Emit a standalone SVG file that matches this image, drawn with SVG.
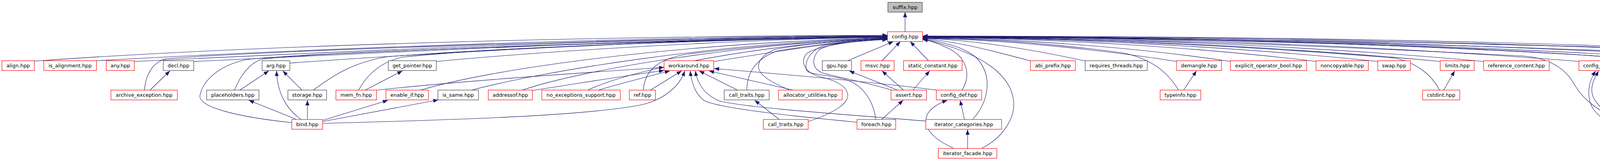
<svg xmlns="http://www.w3.org/2000/svg" width="4939" height="411" viewBox="0 0 4939 411">
<style>
rect{fill:#fff;stroke:#ff0000;stroke-width:1.2}
.b rect{stroke:#404040}
.g rect{fill:#bfbfbf;stroke:#404040}
text{font-family:"DejaVu Sans","Liberation Sans",sans-serif;font-size:12.9px;text-anchor:middle;fill:#000}
#edges path{fill:none;stroke:#191970;stroke-width:1.1;marker-end:url(#a)}
</style>
<defs>
<marker id="a" markerUnits="userSpaceOnUse" markerWidth="14" markerHeight="11" refX="13" refY="5" orient="auto"><path d="M0,0 L13,5 L0,10 z" fill="#191970" stroke="none"/></marker>
</defs>
<rect x="0" y="0" width="4939" height="411" style="fill:#fff;stroke:none"/>
<g id="edges">
<path d="M2317,81 L2317,31"/>
<path d="M88,156 C700,112 1600,92 2272,90"/>
<path d="M247,155 C800,124 1650,93 2272,91"/>
<path d="M344,157 C900,130 1700,94 2272,92"/>
<path d="M496,157 C1000,134 1750,95 2272,92"/>
<path d="M370,230 C372,195 388,160 425,150 C700,128 1700,96 2272,93"/>
<path d="M742,161 C1100,135 1800,97 2272,93"/>
<path d="M600,230 C615,195 635,165 665,153 C720,135 1800,98 2272,94"/>
<path d="M802,230 C850,195 900,160 990,145 C1300,120 1900,99 2272,94"/>
<path d="M747,313 C620,300 505,275 512,243 C520,205 560,168 627,153 C700,138 1600,104 2272,95"/>
<path d="M1117,157 C1400,130 1900,100 2272,95"/>
<path d="M918,230 C940,190 975,158 1030,146 C1300,118 1900,100 2272,95"/>
<path d="M1077,230 C1250,178 1700,112 2272,96"/>
<path d="M1207,230 C1380,185 1800,112 2272,96"/>
<path d="M1337,230 C1500,175 1900,112 2272,97"/>
<path d="M1505,230 C1620,175 1950,113 2272,97"/>
<path d="M1647,230 C1650,180 1685,150 1760,138 C1950,115 2150,102 2272,98"/>
<path d="M1827,157 C2000,130 2150,105 2272,98"/>
<path d="M1912,230 C1912,185 1935,150 1990,130 C2100,112 2200,102 2272,99"/>
<path d="M2020,229 C1985,215 1945,195 1942,173 C1940,155 1955,137 1985,126 C2080,108 2200,102 2272,99"/>
<path d="M2282,230 C2220,210 2130,195 2103,185 C2080,175 2076,150 2097,127 C2130,107 2220,101 2272,100"/>
<path d="M2242,305 C2237,262 2212,218 2165,203 C2110,188 2068,192 2064,177 C2060,155 2075,128 2110,116 C2170,105 2220,102 2272,101"/>
<path d="M2070,310 C2130,290 2175,265 2170,240 C2165,215 2130,203 2097,195 C2060,185 2050,160 2062,140 C2085,115 2200,104 2272,101"/>
<path d="M2170,155 L2287,106"/>
<path d="M2258,155 L2305,106"/>
<path d="M2377,155 L2330,106"/>
<path d="M2463,230 C2490,185 2470,140 2420,120 C2400,110 2380,104 2362,101"/>
<path d="M2490,305 C2535,255 2540,190 2500,148 C2470,120 2410,106 2362,100"/>
<path d="M2513,379 C2570,350 2598,300 2595,260 C2590,195 2520,135 2362,100"/>
<path d="M2640,156 C2550,132 2450,105 2362,99"/>
<path d="M2780,156 C2650,128 2500,102 2362,98"/>
<path d="M3014,157 C2800,124 2550,100 2362,98"/>
<path d="M3017,230 C2990,185 2950,152 2880,136 C2700,110 2500,98 2362,97"/>
<path d="M3152,157 C2900,120 2600,98 2362,97"/>
<path d="M3371,157 C3050,118 2650,97 2362,96"/>
<path d="M3529,157 C3150,118 2700,96 2362,96"/>
<path d="M3689,157 C3250,116 2750,96 2362,95"/>
<path d="M3685,230 C3665,190 3625,160 3570,148 C3200,118 2750,96 2362,95"/>
<path d="M3800,157 C3350,116 2800,95 2362,94"/>
<path d="M4045,157 C3500,114 2900,94 2362,94"/>
<path d="M4302,157 C3700,114 3000,94 2362,93"/>
<path d="M4576,157 C3900,114 3100,93 2362,93"/>
<path d="M4755,157 C4200,112 3200,93 2362,92"/>
<path d="M4857,157 C4300,110 3300,92 2362,92"/>
<path d="M4188,230 C4200,190 4190,160 4150,148 C3800,118 3000,95 2362,94"/>
<path d="M4299,230 C4260,180 4200,150 4100,138 C3700,115 3000,95 2362,94"/>
<path d="M4145,304 C4090,285 4050,250 4030,215 C4005,170 3960,148 3900,143 C3300,112 2800,96 2362,95"/>
<path d="M4343,305 C4420,255 4465,200 4440,158 C4420,128 4300,125 4100,120 C3500,105 2900,95 2362,93"/>
<path d="M4355,379 C4420,340 4480,260 4505,210 C4520,180 4500,160 4465,152 C4300,125 3100,97 2362,93"/>
<path d="M384,230 L435,181"/>
<path d="M614,230 L688,181"/>
<path d="M773,230 L724,181"/>
<path d="M757,304 L637,256"/>
<path d="M770,304 C735,280 710,240 708,181"/>
<path d="M787,304 L787,256"/>
<path d="M827,307 L993,256"/>
<path d="M827,310 L1122,255"/>
<path d="M827,315 C1200,305 1500,295 1640,268 C1700,255 1740,220 1753,181"/>
<path d="M935,230 L1030,181"/>
<path d="M964,230 C1200,205 1500,185 1700,172"/>
<path d="M1363,231 C1500,210 1620,190 1700,180"/>
<path d="M1532,230 C1600,210 1680,190 1715,181"/>
<path d="M1665,230 L1745,181"/>
<path d="M2194,312 C2100,303 1850,280 1803,257 C1780,240 1770,210 1767,181"/>
<path d="M2370,309 C2200,295 1900,275 1840,257 C1800,240 1785,210 1780,181"/>
<path d="M1888,230 L1790,181"/>
<path d="M2030,230 L1815,181"/>
<path d="M2397,230 C2200,205 1950,185 1828,175"/>
<path d="M1995,305 L1932,256"/>
<path d="M2298,230 L2174,181"/>
<path d="M2313,230 L2258,181"/>
<path d="M2337,230 L2380,181"/>
<path d="M2257,305 L2312,256"/>
<path d="M2469,305 L2458,256"/>
<path d="M2477,379 L2477,331"/>
<path d="M2440,378 C2380,350 2360,320 2375,290 C2385,275 2400,265 2425,256"/>
<path d="M3030,230 L3063,181"/>
<path d="M3696,230 L3724,181"/>
<path d="M4172,230 L4123,181"/>
<path d="M4213,230 L4327,181"/>
<path d="M4275,230 L4150,181"/>
<path d="M4317,230 L4350,181"/>
<path d="M4184,305 L4184,256"/>
<path d="M4205,305 L4287,256"/>
<path d="M4320,305 L4311,256"/>
<path d="M4333,305 C4360,260 4368,230 4366,181"/>
<path d="M4262,305 C4180,290 4130,280 4110,260 C4098,240 4100,210 4102,181"/>
<path d="M4148,304 C4110,290 4075,260 4075,230 C4075,210 4085,195 4092,181"/>
<path d="M4280,383 C4200,360 4120,330 4080,280 C4060,250 4065,210 4085,181"/>
<path d="M4324,379 L4324,331"/>
<path d="M4302,379 L4210,331"/>
<path d="M4347,379 C4400,340 4410,280 4400,240 C4395,215 4385,195 4375,181"/>
</g>
<g id="suffix" class="g"><rect x="2273" y="6" width="88" height="25"/><text x="2317" y="22.5">suffix.hpp</text></g>
<g id="config"><rect x="2272" y="81" width="90" height="25"/><text x="2317" y="97.5">config.hpp</text></g>
<g id="align"><rect x="5" y="155" width="83" height="25"/><text x="46.5" y="171.5">align.hpp</text></g>
<g id="is_alignment"><rect x="112" y="155" width="135" height="25"/><text x="179.5" y="171.5">is_alignment.hpp</text></g>
<g id="any"><rect x="272" y="155" width="72" height="25"/><text x="308" y="171.5">any.hpp</text></g>
<g id="decl" class="b"><rect x="418" y="155" width="78" height="25"/><text x="457" y="171.5">decl.hpp</text></g>
<g id="arg" class="b"><rect x="671" y="155" width="71" height="25"/><text x="706.5" y="171.5">arg.hpp</text></g>
<g id="get_pointer" class="b"><rect x="994" y="155" width="123" height="25"/><text x="1055.5" y="171.5">get_pointer.hpp</text></g>
<g id="workaround"><rect x="1700" y="155" width="127" height="25"/><text x="1763.5" y="171.5">workaround.hpp</text></g>
<g id="gpu" class="b"><rect x="2105" y="155" width="75" height="25"/><text x="2142.5" y="171.5">gpu.hpp</text></g>
<g id="msvc"><rect x="2204" y="155" width="85" height="25"/><text x="2246.5" y="171.5">msvc.hpp</text></g>
<g id="static_constant"><rect x="2313" y="155" width="150" height="25"/><text x="2388" y="171.5">static_constant.hpp</text></g>
<g id="abi_prefix"><rect x="2638" y="155" width="115" height="25"/><text x="2695.5" y="171.5">abi_prefix.hpp</text></g>
<g id="requires_threads" class="b"><rect x="2778" y="155" width="159" height="25"/><text x="2857.5" y="171.5">requires_threads.hpp</text></g>
<g id="demangle"><rect x="3012" y="155" width="115" height="25"/><text x="3069.5" y="171.5">demangle.hpp</text></g>
<g id="explicit_operator_bool"><rect x="3150" y="155" width="195" height="25"/><text x="3247.5" y="171.5">explicit_operator_bool.hpp</text></g>
<g id="noncopyable"><rect x="3369" y="155" width="134" height="25"/><text x="3436" y="171.5">noncopyable.hpp</text></g>
<g id="swap"><rect x="3527" y="155" width="84" height="25"/><text x="3569" y="171.5">swap.hpp</text></g>
<g id="limits"><rect x="3687" y="155" width="87" height="25"/><text x="3730.5" y="171.5">limits.hpp</text></g>
<g id="reference_content"><rect x="3798" y="155" width="168" height="25"/><text x="3882" y="171.5">reference_content.hpp</text></g>
<g id="config_begin"><rect x="4042" y="155" width="132" height="25"/><text x="4108" y="171.5">config_begin.hpp</text></g>
<g id="workaround2"><rect x="4300" y="155" width="127" height="25"/><text x="4363.5" y="171.5">workaround.hpp</text></g>
<g id="meta_utils_core"><rect x="4574" y="155" width="155" height="25"/><text x="4651.5" y="171.5">meta_utils_core.hpp</text></g>
<g id="ctps"><rect x="4753" y="155" width="78" height="25"/><text x="4792" y="171.5">ctps.hpp</text></g>
<g id="intel"><rect x="4855" y="155" width="79" height="25"/><text x="4894.5" y="171.5">intel.hpp</text></g>
<g id="archive_exception"><rect x="284" y="230" width="170" height="25"/><text x="369" y="246.5">archive_exception.hpp</text></g>
<g id="placeholders" class="b"><rect x="529" y="230" width="134" height="25"/><text x="596" y="246.5">placeholders.hpp</text></g>
<g id="storage" class="b"><rect x="737" y="230" width="99" height="25"/><text x="786.5" y="246.5">storage.hpp</text></g>
<g id="mem_fn"><rect x="860" y="230" width="104" height="25"/><text x="912" y="246.5">mem_fn.hpp</text></g>
<g id="enable_if"><rect x="988" y="230" width="109" height="25"/><text x="1042.5" y="246.5">enable_if.hpp</text></g>
<g id="is_same" class="b"><rect x="1121" y="230" width="104" height="25"/><text x="1173" y="246.5">is_same.hpp</text></g>
<g id="addressof"><rect x="1250" y="230" width="113" height="25"/><text x="1306.5" y="246.5">addressof.hpp</text></g>
<g id="no_exceptions_support"><rect x="1387" y="230" width="201" height="25"/><text x="1487.5" y="246.5">no_exceptions_support.hpp</text></g>
<g id="ref"><rect x="1611" y="230" width="67" height="25"/><text x="1644.5" y="246.5">ref.hpp</text></g>
<g id="call_traits" class="b"><rect x="1854" y="230" width="115" height="25"/><text x="1911.5" y="246.5">call_traits.hpp</text></g>
<g id="allocator_utilities"><rect x="1993" y="230" width="163" height="25"/><text x="2074.5" y="246.5">allocator_utilities.hpp</text></g>
<g id="assert"><rect x="2281" y="230" width="91" height="25"/><text x="2326.5" y="246.5">assert.hpp</text></g>
<g id="config_def"><rect x="2397" y="230" width="116" height="25"/><text x="2455" y="246.5">config_def.hpp</text></g>
<g id="typeinfo"><rect x="2970" y="230" width="104" height="25"/><text x="3022" y="246.5">typeinfo.hpp</text></g>
<g id="cstdint"><rect x="3642" y="230" width="95" height="25"/><text x="3689.5" y="246.5">cstdint.hpp</text></g>
<g id="type_traits" class="b"><rect x="4124" y="230" width="120" height="25"/><text x="4184" y="246.5">type_traits.hpp</text></g>
<g id="core"><rect x="4268" y="230" width="79" height="25"/><text x="4307.5" y="246.5">core.hpp</text></g>
<g id="bind"><rect x="747" y="305" width="79" height="25"/><text x="786.5" y="321.5">bind.hpp</text></g>
<g id="call_traits2"><rect x="1954" y="305" width="115" height="25"/><text x="2011.5" y="321.5">call_traits.hpp</text></g>
<g id="foreach"><rect x="2194" y="305" width="99" height="25"/><text x="2243.5" y="321.5">foreach.hpp</text></g>
<g id="iterator_categories"><rect x="2370" y="305" width="194" height="25"/><text x="2467" y="321.5">iterator_categories.hpp</text></g>
<g id="traits" class="b"><rect x="4142" y="305" width="84" height="25"/><text x="4184" y="321.5">traits.hpp</text></g>
<g id="utility_core" class="b"><rect x="4262" y="305" width="123" height="25"/><text x="4323.5" y="321.5">utility_core.hpp</text></g>
<g id="iterator_facade"><rect x="2402" y="379" width="150" height="25"/><text x="2477" y="395.5">iterator_facade.hpp</text></g>
<g id="utility"><rect x="4280" y="379" width="87" height="25"/><text x="4323.5" y="395.5">utility.hpp</text></g>
</svg>
